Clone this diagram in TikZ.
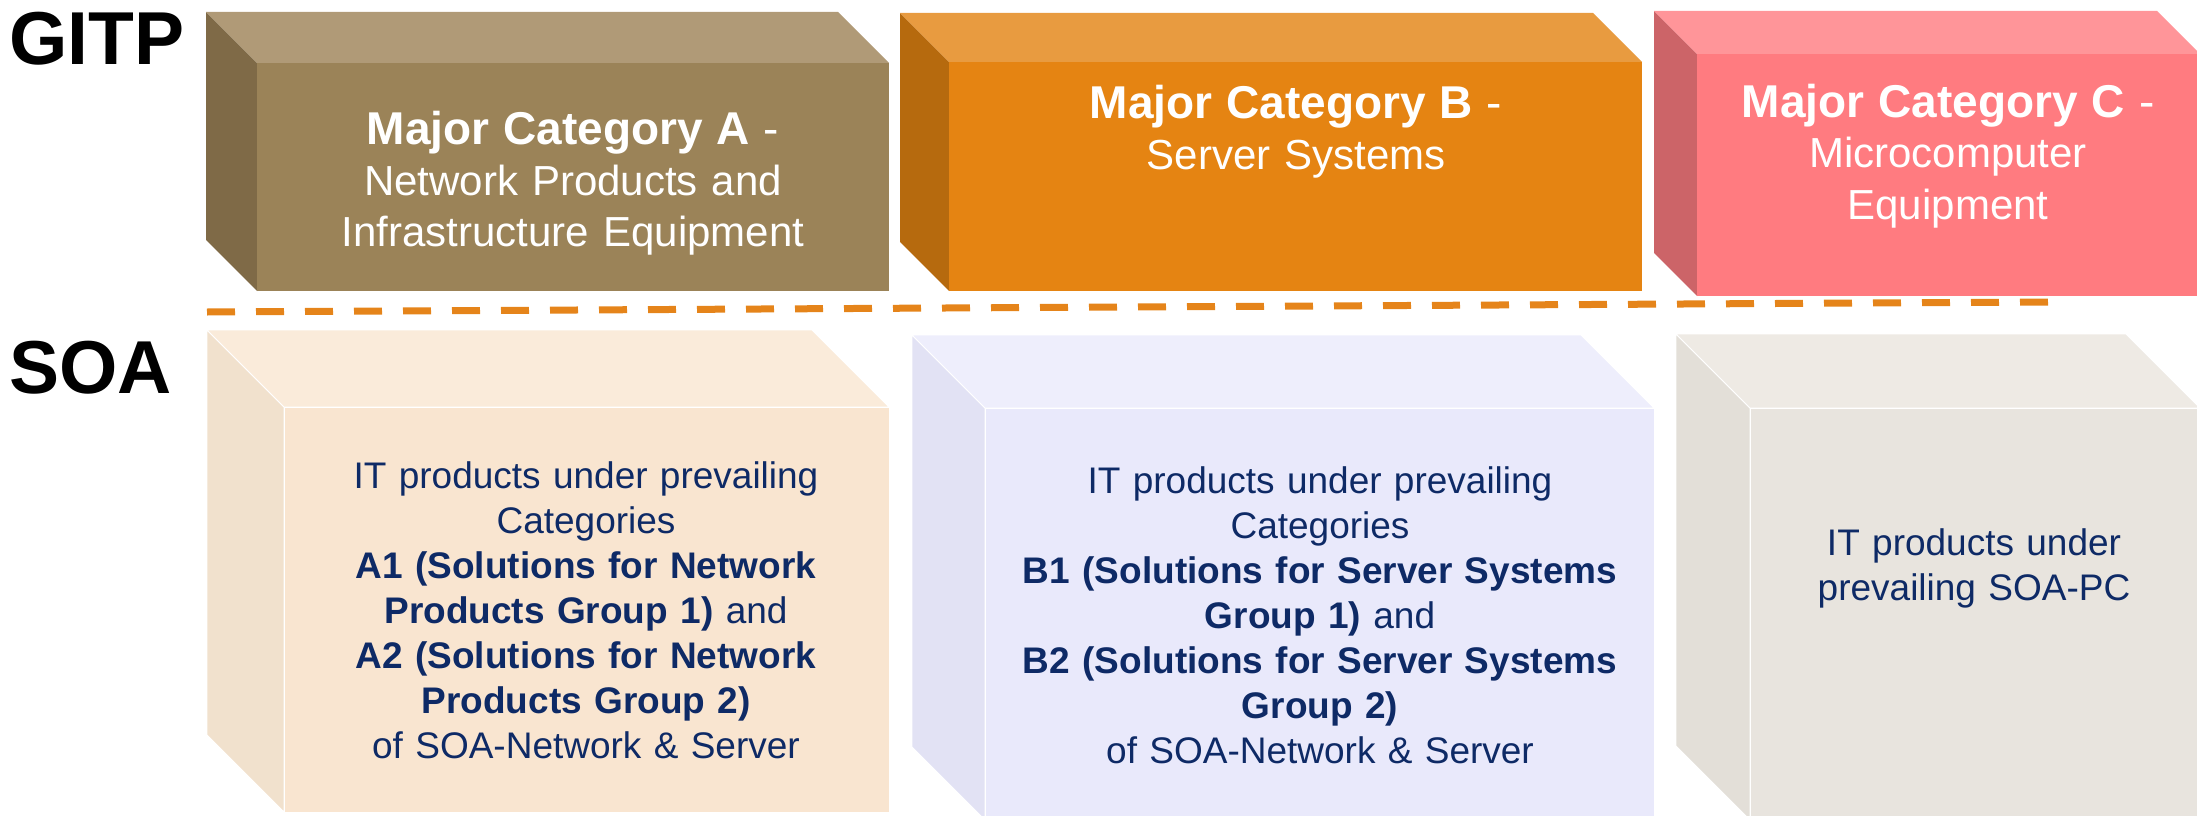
\documentclass[tikz,border=0pt]{standalone}
\usepackage{fontspec}
\setmainfont{Liberation Sans}
\definecolor{Atop}{HTML}{B09A77}\definecolor{Afront}{HTML}{9B8358}\definecolor{Aside}{HTML}{7F6A47}
\definecolor{Btop}{HTML}{E89B40}\definecolor{Bfront}{HTML}{E58412}\definecolor{Bside}{HTML}{B66A0E}
\definecolor{Ctop}{HTML}{FF9599}\definecolor{Cfront}{HTML}{FF7B80}\definecolor{Cside}{HTML}{CC6468}
\definecolor{Dtop}{HTML}{FAEBDA}\definecolor{Dfront}{HTML}{F9E5D0}\definecolor{Dside}{HTML}{F1E1CD}
\definecolor{Etop}{HTML}{EEEEFC}\definecolor{Efront}{HTML}{E9E9FB}\definecolor{Eside}{HTML}{E2E2F4}
\definecolor{Ftop}{HTML}{EEEAE4}\definecolor{Ffront}{HTML}{E8E4DE}\definecolor{Fside}{HTML}{E3DFD8}
\definecolor{sepcol}{HTML}{E5841A}
\definecolor{navy}{HTML}{0E2A66}
% #1 name, #2 x1, #3 y1, #4 x2, #5 y2, #6 depth, #7 colour prefix, #8 edge style
\newcommand\cuboid[8]{%
  \fill[#7side,#8] (#2,#3) -- ({#2-#6},{#3-#6}) -- ({#2-#6},{#5-#6}) -- (#2,#5) -- cycle;
  \fill[#7top,#8] (#2,#3) -- ({#2-#6},{#3-#6}) -- ({#4-#6},{#3-#6}) -- (#4,#3) -- cycle;
  \node[frontface, fill=#7front, #8, minimum width={(#4-#2)*1pt}, minimum height={(#5-#3)*1pt}] (#1) at (#2,#3) {};
}
\begin{document}
\begin{tikzpicture}[x=1pt,y=-1pt,
  frontface/.style={anchor=north west, inner sep=0pt, outer sep=0pt, draw=none},
  softedge/.style={draw=white, line width=0.8pt},
  toptext/.style={anchor=base, inner sep=0pt, align=center, text=white, font=\fontsize{42}{51}\selectfont},
  soatext/.style={anchor=base, inner sep=0pt, align=center, text=navy, font=\fontsize{37}{45}\selectfont},
  rowlabel/.style={anchor=base west, inner sep=0pt, font=\fontsize{75}{80}\selectfont\bfseries, text=black},
  sepline/.style={sepcol, line width=7pt, dash pattern=on 28pt off 21pt}
]
\useasboundingbox (0,0) rectangle (2197,816);
\begin{scope}
\clip (0,0) rectangle (2197,816);
% GITP row
\cuboid{ga}{257}{63}{889}{291}{51}{A}{}
\cuboid{gb}{949}{62}{1642}{291}{49}{B}{}
\cuboid{gc}{1697}{54}{2200}{296}{43}{C}{}
% SOA row
\cuboid{sa}{284}{407}{889}{812}{77}{D}{softedge}
\cuboid{sb}{985}{408}{1654}{820}{73}{E}{softedge}
\cuboid{sc}{1750}{408}{2200}{820}{74}{F}{softedge}
\end{scope}
% separator
\coordinate (sepL) at (207,312);
\coordinate (sepR) at (2052,302);
\draw[sepline] (sepL) -- (sepR);
% row labels
\node[rowlabel] (gitp) at (9,65) {GITP};
\node[rowlabel] (soa) at (9,393) {SOA};
% top texts
\node[toptext, text width=600pt] (ta) at (573,144)
  {{\fontsize{46}{51}\selectfont\bfseries Major Category A}{\fontsize{46}{51}\selectfont{} -}\\Network Products and\\Infrastructure Equipment};
\node[toptext, text width=660pt] (tb) at (1296,118)
  {{\fontsize{46}{51}\selectfont\bfseries Major Category B}{\fontsize{46}{51}\selectfont{} -}\\Server Systems};
\node[toptext, text width=480pt] (tc) at (1948,117)
  {{\fontsize{46}{51}\selectfont\bfseries Major Category C}{\fontsize{46}{51}\selectfont{} -}\\Microcomputer\\Equipment};
% SOA texts
\node[soatext, text width=590pt] (xa) at (586,488)
  {IT products under prevailing\\Categories\\\textbf{A1 (Solutions for Network}\\\textbf{Products Group 1)} and\\\textbf{A2 (Solutions for Network}\\\textbf{Products Group 2)}\\of SOA-Network \& Server};
\node[soatext, text width=650pt] (xb) at (1320,493)
  {IT products under prevailing\\Categories\\\textbf{B1 (Solutions for Server Systems}\\\textbf{Group 1)} and\\\textbf{B2 (Solutions for Server Systems}\\\textbf{Group 2)}\\of SOA-Network \& Server};
\node[soatext, text width=430pt] (xc) at (1974,555)
  {IT products under\\prevailing SOA-PC};
\end{tikzpicture}
\end{document}
